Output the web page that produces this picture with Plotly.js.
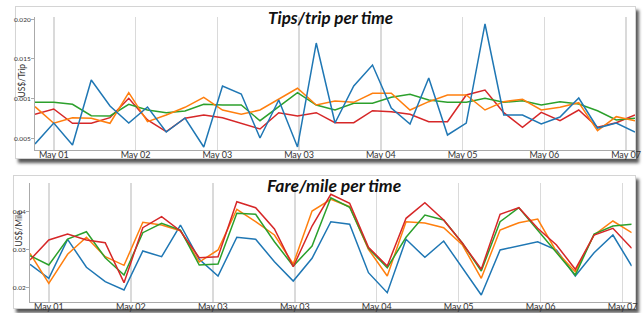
<!DOCTYPE html>
<html>
<head>
<meta charset="utf-8">
<script src="https://cdn.plot.ly/plotly-3.0.1.min.js"></script>
<style>
  html, body { margin:0; padding:0; background:#fff; width:644px; height:313px; overflow:hidden; }
  .panel { position:absolute; background:#fff; border:1px solid #d4d4d4; box-shadow: 3px 4px 3px rgba(0,0,0,0.65); }
  #chart { position:absolute; left:0; top:0; width:644px; height:313px; }
</style>
</head>
<body>
<div class="panel" style="left:15px; top:6px; width:619px; height:151px;"></div>
<div class="panel" style="left:13px; top:175px; width:621px; height:132px;"></div>
<div id="chart"></div>
<script>
// Tick labels (as printed on the original chart)
const dayLabels = ["May 01", "May 02", "May 03", "May 03", "May 04", "May 05", "May 06", "May 07"];
const dayTickPos = [1, 5.36, 9.72, 14.08, 18.44, 22.8, 27.16, 31.52];
const tipsTickVals = [0.005, 0.010, 0.015, 0.020];
const tipsTickText = ["0.005", "0.001", "0.015", "0.020"];
const fareTickVals = [0.02, 0.03, 0.04];
const fareTickText = ["0.02", "0.03", "0.04"];

// Tips per trip series
const tipsBlue = [0.00429,0.00693,0.00416,0.01235,0.00908,0.00693,0.00895,0.0058,0.00756,0.00391,0.0116,0.01059,0.00504,0.00983,0.00391,0.01701,0.00693,0.0116,0.01424,0.00882,0.0068,0.0126,0.00542,0.00693,0.01941,0.00794,0.00794,0.0068,0.00769,0.01008,0.0063,0.00693,0.0058];
const tipsOrange = [0.00899,0.0069,0.0076,0.00753,0.0069,0.01075,0.0071,0.00794,0.00891,0.01017,0.00857,0.00803,0.00857,0.00992,0.01131,0.0092,0.0097,0.00954,0.01068,0.01068,0.00857,0.00962,0.01046,0.01046,0.00857,0.00962,0.00992,0.00857,0.00891,0.00949,0.00596,0.00773,0.00722];
const tipsGreen = [0.00954,0.00954,0.00929,0.00785,0.00782,0.00929,0.00857,0.00823,0.00845,0.00929,0.0092,0.0092,0.00722,0.00899,0.01075,0.0092,0.00857,0.00942,0.00942,0.01017,0.01055,0.00983,0.00954,0.00954,0.01005,0.00954,0.00974,0.0092,0.00962,0.00933,0.00848,0.00731,0.00753];
const tipsRed = [0.00803,0.0087,0.0069,0.0069,0.0076,0.01005,0.00731,0.00584,0.00753,0.00794,0.0076,0.0069,0.00618,0.00823,0.00782,0.00823,0.00697,0.00697,0.00848,0.00836,0.00803,0.0071,0.0071,0.01046,0.01109,0.00823,0.00639,0.00828,0.00722,0.00857,0.00639,0.00697,0.00794];

// Fare per mile series
const fareBlue = [0.02617,0.02248,0.03274,0.02538,0.02159,0.01941,0.02966,0.02816,0.0365,0.02748,0.02309,0.03327,0.03274,0.02685,0.02177,0.02774,0.03737,0.03669,0.02396,0.0187,0.03274,0.028,0.03229,0.02519,0.01809,0.02993,0.03098,0.03211,0.02993,0.02309,0.02922,0.03387,0.02572];
const fareOrange = [0.02906,0.02117,0.0288,0.03327,0.02816,0.0259,0.03721,0.0365,0.035,0.02677,0.02993,0.04063,0.03737,0.03387,0.02624,0.04018,0.04326,0.04132,0.03011,0.02309,0.03737,0.03703,0.03579,0.03124,0.02248,0.03519,0.03711,0.03808,0.02948,0.02422,0.03387,0.03755,0.03448];
const fareGreen = [0.02843,0.02598,0.03282,0.03474,0.0279,0.02335,0.03448,0.03695,0.03519,0.02598,0.02624,0.03958,0.03932,0.03211,0.02572,0.03098,0.04368,0.04116,0.03037,0.02527,0.03327,0.03913,0.03782,0.03169,0.0244,0.03737,0.04105,0.03519,0.02948,0.02335,0.03413,0.03624,0.03669];
const fareRed = [0.0273,0.03256,0.03413,0.03256,0.03185,0.02133,0.03579,0.03868,0.03492,0.0279,0.02816,0.04263,0.04105,0.03545,0.02553,0.03624,0.04458,0.04221,0.03064,0.02572,0.03826,0.04237,0.03782,0.03169,0.02485,0.03932,0.04105,0.03563,0.03124,0.02485,0.03387,0.03563,0.03037];

const colors = ["#1f77b4", "#ff7f0e", "#2ca02c", "#d62728"];
const idx = tipsBlue.map((_, i) => i);

function tr(y, c, xa, ya) {
  return { x: idx, y: y, type: "scatter", mode: "lines", xaxis: xa, yaxis: ya,
           line: { color: c, width: 1.5 }, hoverinfo: "skip", showlegend: false };
}

const data = [
  tr(tipsRed, colors[3], "x", "y"),
  tr(tipsGreen, colors[2], "x", "y"),
  tr(tipsOrange, colors[1], "x", "y"),
  tr(tipsBlue, colors[0], "x", "y"),
  tr(fareBlue, colors[0], "x2", "y2"),
  tr(fareOrange, colors[1], "x2", "y2"),
  tr(fareGreen, colors[2], "x2", "y2"),
  tr(fareRed, colors[3], "x2", "y2")
];

const W = 644, H = 313;
const tickFont = { family: "Lato, 'Open Sans', sans-serif", size: 9, color: "#333" };
const yTickFont = { family: "Lato, 'Open Sans', sans-serif", size: 6.5, color: "#333" };

function xAxis(domain, anchor) {
  return { domain: domain, anchor: anchor, range: [0, 32], tickmode: "array",
           tickvals: dayTickPos, ticktext: dayLabels, showgrid: true, gridcolor: "#dadada",
           gridwidth: 1.5, showline: true, linecolor: "#aaa", linewidth: 1, ticks: "",
           ticklabelstandoff: -4,
           zeroline: false, tickfont: tickFont, fixedrange: true, automargin: false };
}
function yAxis(domain, anchor, range, tv, tt) {
  return { domain: domain, anchor: anchor, range: range, tickmode: "array",
           tickvals: tv, ticktext: tt, showgrid: false, showline: true, linecolor: "#aaa",
           linewidth: 1, ticks: "outside", ticklen: 3, tickcolor: "#aaa", zeroline: false,
           ticklabelstandoff: -1,
           tickfont: yTickFont, fixedrange: true, automargin: false };
}

const layout = {
  width: W, height: H,
  margin: { l: 0, r: 0, t: 0, b: 0 },
  paper_bgcolor: "rgba(0,0,0,0)", plot_bgcolor: "rgba(0,0,0,0)",
  xaxis: xAxis([35 / W, 635 / W], "y"),
  yaxis: yAxis([1 - 150 / H, 1 - 17 / H], "x", [0.00353, 0.02029], tipsTickVals, tipsTickText),
  xaxis2: xAxis([30 / W, 631.7 / W], "y2"),
  yaxis2: yAxis([1 - 301.7 / H, 1 - 183 / H], "x2", [0.01633, 0.04755], fareTickVals, fareTickText),
  annotations: [
    { text: "Tips/trip per time", xref: "paper", yref: "paper", x: 330.5 / W, y: 1 - 18 / H,
      xanchor: "center", yanchor: "middle", showarrow: false,
      font: { family: "Lato, 'Open Sans', sans-serif", size: 17, color: "#111", weight: "bold", style: "italic" } },
    { text: "Fare/mile per time", xref: "paper", yref: "paper", x: 334 / W, y: 1 - 185 / H,
      xanchor: "center", yanchor: "middle", showarrow: false,
      font: { family: "Lato, 'Open Sans', sans-serif", size: 17.5, color: "#111", weight: "bold", style: "italic" } },
    { text: "US$/Trip", xref: "paper", yref: "paper", x: 21.5 / W, y: 1 - 81 / H, textangle: -90,
      xanchor: "center", yanchor: "middle", showarrow: false,
      font: { family: "Lato, 'Open Sans', sans-serif", size: 8.5, color: "#333" } },
    { text: "US$/Mile", xref: "paper", yref: "paper", x: 18.5 / W, y: 1 - 228 / H, textangle: -90,
      xanchor: "center", yanchor: "middle", showarrow: false,
      font: { family: "Lato, 'Open Sans', sans-serif", size: 8.5, color: "#333" } }
  ]
};

Plotly.newPlot("chart", data, layout, { staticPlot: true, displayModeBar: false });
</script>
</body>
</html>
